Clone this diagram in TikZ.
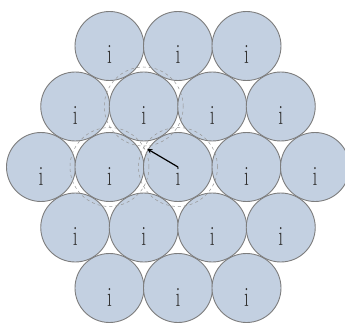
\documentclass[tikz,border=0pt]{standalone}
\usetikzlibrary{calc}
\definecolor{discblue}{RGB}{195,208,225}
\definecolor{rimgray}{RGB}{125,125,125}
\begin{document}
\begin{tikzpicture}[x=1pt,y=1pt,>=stealth,
  disc/.style={circle,draw=rimgray,line width=0.9pt,fill=discblue,minimum size=69pt,inner sep=0pt,
    text=black!80,text height=36pt,text depth=0pt,font=\fontsize{28}{28}\selectfont},
  ring/.style={circle,draw=rimgray!80,dashed,line width=0.5pt,minimum size=79pt,inner sep=0pt}]
  \useasboundingbox (-178,-157) rectangle (167,167);
  % hexagonal packing, rows from bottom to top
  \foreach \r in {-2,...,2} {
    \pgfmathtruncatemacro{\n}{4-abs(\r)}
    \foreach \k in {0,...,\n} {
      \node[disc] (c\r\k) at ({(\k-\n/2)*68.5},{\r*60.5}) {\scalebox{0.7}[1]{i}};
    }
  }
  \node[ring] (ringA) at (c02) {};
  \node[ring] (ringB) at (c01) {};
  \node[ring] (ringC) at (c11) {};
  \coordinate (gap) at (barycentric cs:c01=1,c02=1,c11=1);
  \draw[->,line width=1.2pt] (c02.center) -- ($(c02.center)!0.9!(gap)$);
\end{tikzpicture}
\end{document}
